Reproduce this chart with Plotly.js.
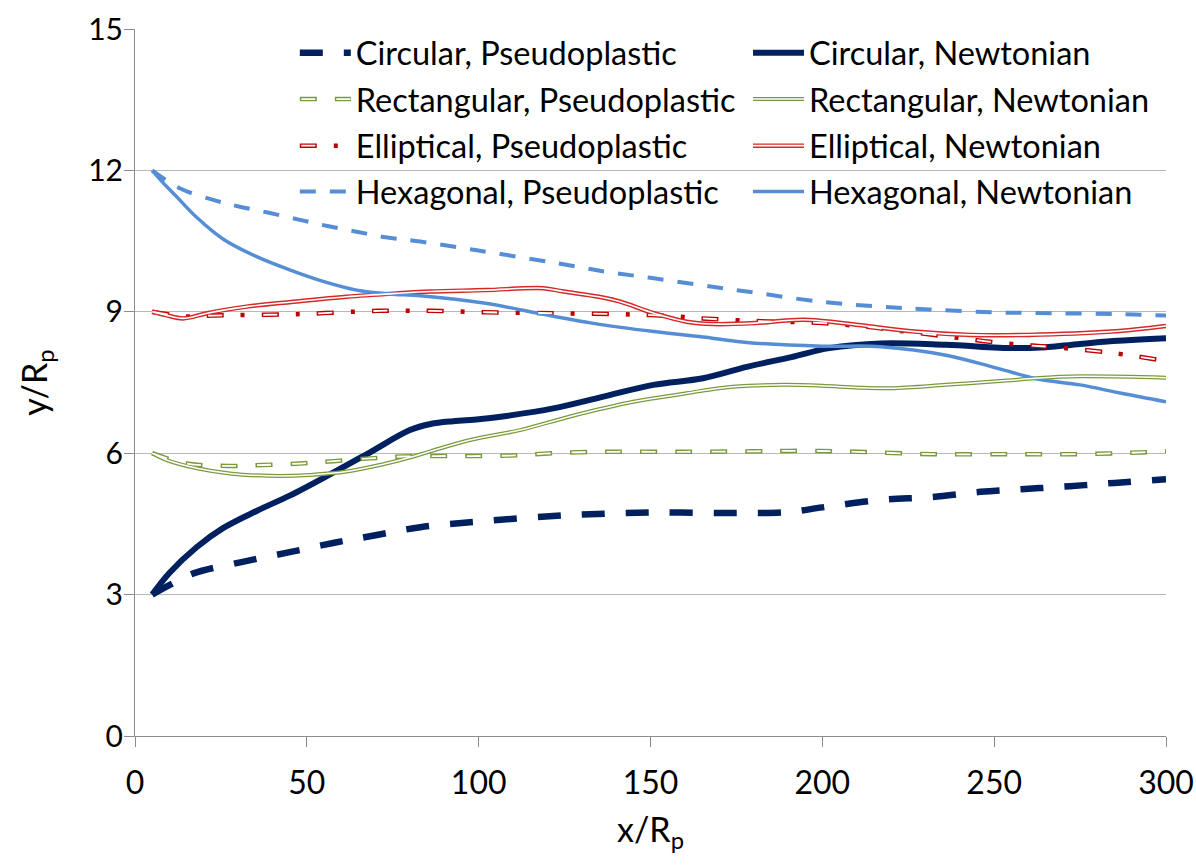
<!DOCTYPE html>
<html>
<head>
<meta charset="utf-8">
<script src="https://cdn.plot.ly/plotly-3.0.1.min.js"></script>
<style>
  html, body { margin: 0; padding: 0; background: #fff; }
  #chart { width: 1196px; height: 867px; }
</style>
</head>
<body>
<div id="chart"></div>
<script>
// ---------- data ----------
const seriesNames = [
  "Circular, Pseudoplastic", "Circular, Newtonian",
  "Rectangular, Pseudoplastic", "Rectangular, Newtonian",
  "Elliptical, Pseudoplastic", "Elliptical, Newtonian",
  "Hexagonal, Pseudoplastic", "Hexagonal, Newtonian"
];

const circPseudoX = [5, 10, 17, 31, 45, 58, 70, 83, 100, 125, 150, 175, 190, 200, 217, 232, 246, 259, 272, 285, 300];
const circPseudoY = [3.0, 3.2, 3.45, 3.69, 3.9, 4.1, 4.26, 4.43, 4.55, 4.68, 4.74, 4.73, 4.75, 4.85, 5.01, 5.07, 5.18, 5.24, 5.30, 5.37, 5.45];

const circNewtX = [5, 10, 18, 25.6, 35.5, 45, 56.7, 68.4, 80, 86, 92.6, 100, 107, 121.7, 136.3, 150.8, 165.3, 178, 191, 202, 217, 236, 255.6, 265, 284.6, 300];
const circNewtY = [3.0, 3.46, 4.01, 4.41, 4.78, 5.10, 5.55, 6.02, 6.49, 6.62, 6.68, 6.72, 6.78, 6.95, 7.2, 7.45, 7.59, 7.83, 8.04, 8.23, 8.33, 8.30, 8.23, 8.25, 8.38, 8.44];

const rectPseudoX = [5, 15, 26.7, 37.3, 48, 57.7, 68.4, 78, 88, 98, 109, 119, 129, 140, 160, 180, 195, 210, 232, 255, 275, 290, 300];
const rectPseudoY = [6.0, 5.78, 5.73, 5.75, 5.78, 5.83, 5.89, 5.93, 5.94, 5.94, 5.95, 5.99, 6.02, 6.03, 6.03, 6.04, 6.05, 6.03, 5.98, 5.98, 5.98, 6.01, 6.04];

const rectNewtX = [5, 9, 18, 27.6, 39.3, 51, 61.6, 71.3, 81, 86, 97.5, 112, 126.6, 145, 160.5, 170, 178.4, 189, 200, 210.6, 220, 236, 253.7, 262, 275, 300];
const rectNewtY = [6.0, 5.86, 5.68, 5.57, 5.52, 5.54, 5.61, 5.75, 5.93, 6.04, 6.28, 6.49, 6.78, 7.09, 7.27, 7.38, 7.43, 7.45, 7.43, 7.39, 7.38, 7.45, 7.54, 7.59, 7.63, 7.60];

const ellPseudoX = [5, 15, 22.8, 47, 71, 86, 102, 122, 141, 150, 158, 165, 182, 200, 213, 222, 237, 253, 269, 285, 298];
const ellPseudoY = [9.0, 8.90, 8.92, 8.95, 9.02, 9.02, 8.99, 8.97, 8.95, 8.93, 8.90, 8.86, 8.80, 8.76, 8.68, 8.60, 8.47, 8.33, 8.24, 8.12, 7.98];

const ellNewtX = [5, 9, 14, 21, 32.5, 47, 61.6, 76, 86, 102, 118.8, 124.6, 135, 141, 151, 160.5, 168, 180.5, 194.5, 210.6, 226.8, 243, 260, 284, 300];
const ellNewtY = [9.0, 8.93, 8.86, 8.97, 9.11, 9.22, 9.32, 9.39, 9.43, 9.46, 9.5, 9.43, 9.32, 9.22, 8.97, 8.79, 8.74, 8.76, 8.83, 8.72, 8.58, 8.51, 8.51, 8.58, 8.70];

const hexPseudoX = [5, 13, 23, 30.5, 39, 48, 56, 64.5, 73, 83, 99, 117, 128.5, 137, 151, 168, 178, 200, 217, 231, 249, 267, 286, 300];
const hexPseudoY = [12.0, 11.62, 11.37, 11.23, 11.1, 10.95, 10.82, 10.7, 10.58, 10.49, 10.31, 10.1, 9.96, 9.85, 9.71, 9.53, 9.43, 9.21, 9.11, 9.05, 8.99, 8.97, 8.95, 8.92];

const hexNewtX = [5, 8, 12, 18, 25.7, 35.4, 45, 55, 64.5, 74, 83, 102, 120, 133, 151, 168, 178, 200, 217, 236, 251, 263, 275, 287, 300];
const hexNewtY = [12.0, 11.75, 11.45, 11.0, 10.54, 10.17, 9.89, 9.64, 9.46, 9.38, 9.34, 9.18, 8.93, 8.76, 8.58, 8.44, 8.35, 8.27, 8.26, 8.08, 7.80, 7.57, 7.45, 7.27, 7.09];

const xTickVals = [0, 50, 100, 150, 200, 250, 300];
const yTickVals = [0, 3, 6, 9, 12, 15];

// ---------- styles ----------
const NAVY = "#002060", GREEN = "#7A9A3E", RED = "#C00000", REDN = "#D42A2A", BLUE = "#558ED5";
const FONT = "Lato, 'Open Sans', sans-serif";

// legend slots: column x (paper) and row y (paper)
const COLX = [0.155, 0.5946];
const ROWY = [0.966, 0.9003, 0.8345, 0.7695];

function tr(x, y, name, line, legend, yaxis) {
  return {
    type: "scatter", mode: "lines", x: x, y: y, name: name,
    line: Object.assign({shape: "spline", smoothing: 1}, line),
    legend: legend, showlegend: true, hoverinfo: "skip",
    xaxis: "x", yaxis: yaxis || "y"
  };
}

const traces = [
  tr(circPseudoX, circPseudoY, seriesNames[0], {color: NAVY, width: 6.5, dash: "23px,21px"}, "legend"),
  tr(circNewtX, circNewtY, seriesNames[1], {color: NAVY, width: 6}, "legend2"),

  tr(rectPseudoX, rectPseudoY, seriesNames[2], {color: GREEN, width: 4.5, dash: "17px,18px"}, "legend3"),
  tr(rectNewtX, rectNewtY, seriesNames[3], {color: GREEN, width: 4}, "legend4"),

  tr(ellPseudoX, ellPseudoY, seriesNames[4], {color: RED, width: 4.5, dash: "17px,17px,4px,17px"}, "legend5"),
  tr(ellNewtX, ellNewtY, seriesNames[5], {color: REDN, width: 4.5}, "legend6"),

  tr(hexPseudoX, hexPseudoY, seriesNames[6], {color: BLUE, width: 4, dash: "16px,14px"}, "legend7"),
  tr(hexNewtX, hexNewtY, seriesNames[7], {color: BLUE, width: 3.5}, "legend8"),

  // white inner strokes giving the double-line look (on the overlaid, identical y2 axis)
  tr(rectPseudoX, rectPseudoY, " ", {color: "#ffffff", width: 1.8, dash: "0px,1.5px,14px,19.5px"}, "legend9", "y2"),
  tr(rectNewtX, rectNewtY, " ", {color: "#ffffff", width: 1.5}, "legend10", "y2"),
  tr(ellPseudoX, ellPseudoY, " ", {color: "#ffffff", width: 1.8, dash: "0px,1.5px,14px,39.5px"}, "legend11", "y2"),
  tr(ellNewtX, ellNewtY, " ", {color: "#ffffff", width: 1.6}, "legend12", "y2")
];

function leg(col, row) {
  return {
    orientation: "v", x: COLX[col], xanchor: "left", y: ROWY[row], yanchor: "middle",
    bgcolor: "rgba(0,0,0,0)", borderwidth: 0, itemwidth: 51,
    font: {family: FONT, size: 32.5, color: "#000"},
    itemclick: false, itemdoubleclick: false
  };
}

const layout = {
  width: 1196, height: 867,
  margin: {l: 135, r: 30, t: 29, b: 131},
  paper_bgcolor: "#fff", plot_bgcolor: "#fff",
  font: {family: FONT, color: "#000"},
  showlegend: true,
  legend: leg(0, 0), legend2: leg(1, 0),
  legend3: leg(0, 1), legend4: leg(1, 1),
  legend5: leg(0, 2), legend6: leg(1, 2),
  legend7: leg(0, 3), legend8: leg(1, 3),
  legend9: leg(0, 1), legend10: leg(1, 1),
  legend11: leg(0, 2), legend12: leg(1, 2),
  xaxis: {
    range: [0, 300], tickvals: xTickVals, ticktext: xTickVals.map(String),
    showgrid: false, zeroline: false,
    showline: true, linecolor: "#8c8c8c", linewidth: 1,
    ticks: "outside", ticklen: 10, tickcolor: "#8c8c8c",
    tickfont: {family: FONT, size: 32, color: "#000"},
    ticklabelstandoff: 9,
    title: {text: "x/R<sub>p</sub>", font: {family: FONT, size: 34, color: "#000"}, standoff: 17},
    fixedrange: true
  },
  // main y axis: labels and grid; tick marks come from the overlaid y2 axis
  yaxis: {
    range: [0, 15], tickvals: yTickVals, ticktext: yTickVals.map(String),
    showgrid: true, gridcolor: "#b8b8b8", gridwidth: 1, zeroline: false,
    showline: true, linecolor: "#8c8c8c", linewidth: 1,
    ticks: "", ticklabelstandoff: 5,
    tickfont: {family: FONT, size: 30, color: "#000"},
    title: {text: "y/R<sub>p</sub>", font: {family: FONT, size: 34, color: "#000"}, standoff: 30},
    fixedrange: true
  },
  yaxis2: {
    overlaying: "y", anchor: "x", side: "left",
    range: [0, 15], tickvals: yTickVals, showticklabels: false,
    showgrid: false, zeroline: false, showline: false,
    ticks: "outside", ticklen: 10, tickcolor: "#8c8c8c",
    fixedrange: true
  }
};

Plotly.newPlot("chart", traces, layout, {displayModeBar: false, staticPlot: true});
</script>
</body>
</html>
